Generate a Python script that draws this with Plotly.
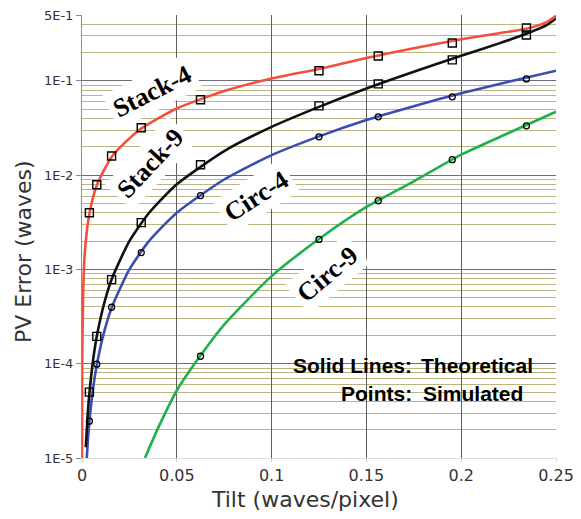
import plotly.graph_objects as go

# ---------------- data ----------------
# Theoretical curves
x_stack4_th = [0.00001, 0.0001, 0.001, 0.002, 0.004, 0.008, 0.016, 0.03, 0.05, 0.075,
               0.1, 0.125, 0.15, 0.175, 0.2, 0.22, 0.235, 0.245, 0.25]
y_stack4_th = [1e-5, 1e-4, 1e-3, 0.002, 0.004, 0.008, 0.016, 0.030, 0.051, 0.078,
               0.106, 0.134, 0.175, 0.222, 0.276, 0.32, 0.36, 0.42, 0.49]

x_stack9_th = [0.002, 0.003, 0.004, 0.006, 0.008, 0.012, 0.016, 0.025, 0.035, 0.05,
               0.075, 0.1, 0.125, 0.15, 0.175, 0.2, 0.22, 0.235, 0.245, 0.25]
y_stack9_th = [1.3e-5, 2.9e-5, 5.1e-5, 1.15e-4, 2.05e-4, 4.6e-4, 8.2e-4, 2.0e-3, 3.9e-3, 8.0e-3,
               0.0180, 0.0325, 0.053, 0.083, 0.125, 0.185, 0.25, 0.32, 0.39, 0.46]

x_circ4_th = [0.0024, 0.003, 0.004, 0.006, 0.008, 0.012, 0.016, 0.025, 0.035, 0.05,
              0.075, 0.1, 0.125, 0.15, 0.175, 0.2, 0.225, 0.25]
y_circ4_th = [9.2e-6, 1.44e-5, 2.56e-5, 5.8e-5, 1.02e-4, 2.3e-4, 4.1e-4, 1.0e-3, 1.96e-3, 4.0e-3,
              9.0e-3, 0.0163, 0.0258, 0.0385, 0.054, 0.074, 0.098, 0.128]

x_circ9_th = [0.0332, 0.04, 0.05, 0.0625, 0.075, 0.1, 0.125, 0.15, 0.175, 0.2, 0.225, 0.25]
y_circ9_th = [1e-5, 2.05e-5, 5.2e-5, 1.22e-4, 2.6e-4, 8.5e-4, 2.1e-3, 4.6e-3, 8.6e-3, 0.0165, 0.028, 0.047]

# Simulated points
x_sim = [0.0039, 0.0078, 0.0156, 0.03125, 0.0625, 0.125, 0.15625, 0.1953, 0.2344]
y_stack4_sim = [0.004, 0.0079, 0.016, 0.0318, 0.063, 0.128, 0.184, 0.252, 0.364]
y_stack9_sim = [5.0e-5, 1.95e-4, 7.8e-4, 3.14e-3, 0.0129, 0.0543, 0.093, 0.167, 0.307]
y_circ4_sim = [2.46e-5, 9.9e-5, 3.97e-4, 1.51e-3, 6.07e-3, 0.0255, 0.0416, 0.0677, 0.105]
x_circ9_sim = [0.0625, 0.125, 0.15625, 0.1953, 0.2344]
y_circ9_sim = [1.2e-4, 2.08e-3, 5.37e-3, 0.0146, 0.0334]

# Axis ticks
x_tickvals = [0, 0.05, 0.1, 0.15, 0.2, 0.25]
x_ticktext = ["0", "0.05", "0.1", "0.15", "0.2", "0.25"]
y_tickvals = [1e-5, 1e-4, 1e-3, 1e-2, 1e-1, 0.5]
y_ticktext = ["1E-5", "1E-4", "1E-3", "1E-2", "1E-1", "5E-1"]
y_minor = [m * 10.0 ** e for e in range(-5, -1) for m in range(2, 10)] + [0.2, 0.3, 0.4]
x_top_ticks = [k * 5 / 256 for k in range(13)] + [0.25]

# ---------------- figure ----------------
fig = go.Figure()

RED, BLACK, BLUE, GREEN = "#f2503c", "#111111", "#3b4db3", "#1fb04c"
LW = 2.6

for xs, ys, c in [(x_circ9_th, y_circ9_th, GREEN), (x_circ4_th, y_circ4_th, BLUE),
                  (x_stack9_th, y_stack9_th, BLACK), (x_stack4_th, y_stack4_th, RED)]:
    fig.add_trace(go.Scatter(x=xs, y=ys, mode="lines",
                             line=dict(color=c, width=LW, shape="spline", smoothing=0.6),
                             hoverinfo="skip"))

sq = dict(symbol="square-open", size=8, color="black", line=dict(width=1.4, color="black"))
ci = dict(symbol="circle-open", size=6, color="black", line=dict(width=1.3, color="black"))
fig.add_trace(go.Scatter(x=x_sim, y=y_stack4_sim, mode="markers", marker=sq))
fig.add_trace(go.Scatter(x=x_sim, y=y_stack9_sim, mode="markers", marker=sq))
fig.add_trace(go.Scatter(x=x_sim, y=y_circ4_sim, mode="markers", marker=ci))
fig.add_trace(go.Scatter(x=x_circ9_sim, y=y_circ9_sim, mode="markers", marker=ci))

# the page body has an 8px margin, so the figure is sized 8px smaller
PLOT_L, PLOT_R, PLOT_T, PLOT_B = 82, 556, 15, 458
W, H = 573, 511
OFF = 8

FONT = "DejaVu Sans"
fig.update_layout(
    width=W, height=H,
    margin=dict(l=PLOT_L - OFF, r=W + OFF - PLOT_R, t=PLOT_T - OFF, b=H + OFF - PLOT_B,
                autoexpand=False),
    paper_bgcolor="white", plot_bgcolor="white",
    showlegend=False,
    font=dict(family=FONT, color="#333333"),
    xaxis=dict(range=[0, 0.25], tickmode="array", tickvals=x_tickvals, ticktext=x_ticktext,
               showgrid=True, gridcolor="#5f5f5f", gridwidth=1.2, zeroline=False,
               showline=True, linecolor="#dcdcdc", linewidth=1,
               ticks="outside", ticklen=3, tickcolor="#cccccc",
               ticklabeloverflow="allow",
               tickfont=dict(size=16, color="#333333", family=FONT)),
    xaxis2=dict(range=[0, 0.25], overlaying="x", side="top", anchor="y",
                tickmode="array", tickvals=x_top_ticks, showticklabels=False,
                ticks="outside", ticklen=5, tickcolor="#aaaaaa",
                showline=True, linecolor="#8c8c8c", showgrid=False, zeroline=False),
    yaxis=dict(type="log", range=[-5, -0.30102], tickmode="array",
               tickvals=y_tickvals, ticktext=y_ticktext,
               showgrid=True, gridcolor="#6d6d78", gridwidth=1.3, zeroline=False,
               minor=dict(tickmode="array", tickvals=y_minor, showgrid=True,
                          gridcolor="#bbb582", gridwidth=1.2, ticks=""),
               showline=True, linecolor="#8c8c8c", linewidth=1,
               ticks="outside", ticklen=5, tickcolor="#888888",
               ticklabeloverflow="allow",
               tickfont=dict(size=13, color="#333333", family=FONT)),
)

PW, PH = PLOT_R - PLOT_L, PLOT_B - PLOT_T


def px_x(px):
    return (px - PLOT_L) / PW


def px_y(py):
    return (PLOT_B - py) / PH


# white box behind the note
fig.add_shape(type="rect", xref="paper", yref="paper",
              x0=px_x(277), x1=px_x(548), y0=px_y(411), y1=px_y(345),
              fillcolor="white", line=dict(width=0), layer="between")

# axis titles
fig.add_annotation(text="Tilt (waves/pixel)", xref="paper", yref="paper",
                   x=px_x(305), y=px_y(500), showarrow=False,
                   font=dict(size=22, family=FONT, color="#333333"),
                   xanchor="center", yanchor="middle")
fig.add_annotation(text="PV Error (waves)", xref="paper", yref="paper",
                   x=px_x(23), y=px_y(252), showarrow=False, textangle=-90,
                   font=dict(size=22, family=FONT, color="#333333"),
                   xanchor="center", yanchor="middle")

# curve labels
SERIF = "Liberation Serif"
for txt, px, py, ang in [("Stack-4", 152, 91, -27), ("Stack-9", 150, 163, -47),
                         ("Circ-4", 256, 196, -33), ("Circ-9", 327, 274, -40)]:
    fig.add_annotation(text="<b>" + txt + "</b>", xref="paper", yref="paper",
                       x=px_x(px), y=px_y(py), showarrow=False,
                       textangle=ang, xanchor="center", yanchor="middle",
                       bgcolor="white", borderpad=4,
                       font=dict(size=26, family=SERIF, color="black"))

# note text
NOTE = "Liberation Sans"
for txt, px, py, anc in [("Solid Lines:", 414, 365, "right"), ("Points:", 414, 393, "right"),
                         ("Theoretical", 419, 365, "left"), ("Simulated", 421, 393, "left")]:
    fig.add_annotation(text="<b>" + txt + "</b>", xref="paper", yref="paper",
                       x=px_x(px), y=px_y(py), showarrow=False,
                       xanchor=anc, yanchor="middle",
                       font=dict(size=21, family=NOTE, color="black"))

fig.write_html("out.html")
